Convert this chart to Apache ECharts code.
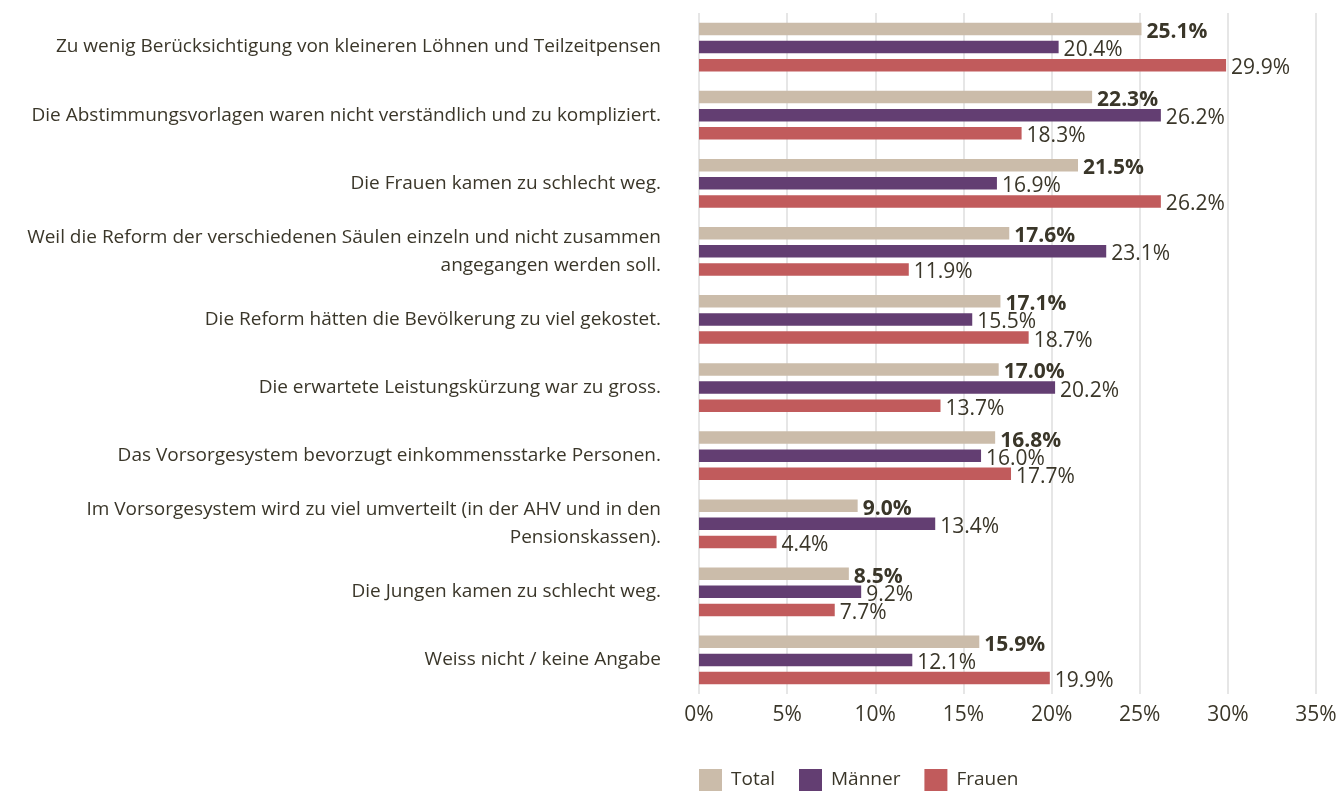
<!DOCTYPE html>
<html>
<head>
<meta charset="utf-8">
<script src="https://cdn.jsdelivr.net/npm/echarts@6/dist/echarts.min.js"></script>
<style>
  html, body { margin: 0; padding: 0; background: #fff; }
  #chart { width: 1342px; height: 791px; }
</style>
</head>
<body>
<div id="chart"></div>
<script>
// Gründe (Kategorien), von oben nach unten
var categories = [
    'Zu wenig Berücksichtigung von kleineren Löhnen und Teilzeitpensen',
    'Die Abstimmungsvorlagen waren nicht verständlich und zu kompliziert.',
    'Die Frauen kamen zu schlecht weg.',
    'Weil die Reform der verschiedenen Säulen einzeln und nicht zusammen\nangegangen werden soll.',
    'Die Reform hätten die Bevölkerung zu viel gekostet.',
    'Die erwartete Leistungskürzung war zu gross.',
    'Das Vorsorgesystem bevorzugt einkommensstarke Personen.',
    'Im Vorsorgesystem wird zu viel umverteilt (in der AHV und in den\nPensionskassen).',
    'Die Jungen kamen zu schlecht weg.',
    'Weiss nicht / keine Angabe'
];
var total  = [25.1, 22.3, 21.5, 17.6, 17.1, 17.0, 16.8, 9.0, 8.5, 15.9];
var maenner = [20.4, 26.2, 16.9, 23.1, 15.5, 20.2, 16.0, 13.4, 9.2, 12.1];
var frauen = [29.9, 18.3, 26.2, 11.9, 18.7, 13.7, 17.7, 4.4, 7.7, 19.9];
var xTicks = [0, 5, 10, 15, 20, 25, 30, 35];

var textColor = '#3a3629';
var fontFam = '"Open Sans", "Noto Sans", sans-serif';

var chart = echarts.init(document.getElementById('chart'));

// Balken-Label (Total fett)
var barLabel = function(bold){
    return {
        show: true,
        position: 'right',
        distance: 5,
        offset: [0, 3],
        color: textColor,
        fontFamily: fontFam,
        fontSize: 21,
        fontWeight: bold ? 'bold' : 'normal',
        formatter: function(p){ return p.value.toFixed(1) + '%'; }
    };
};

var option = {
    animation: false,
    textStyle: { fontFamily: fontFam, color: textColor },
    legend: {
        left: 699,
        top: 769,
        padding: 0,
        itemWidth: 23,
        itemHeight: 22,
        itemGap: 24,
        icon: 'rect',
        textStyle: { fontSize: 19, color: textColor, fontFamily: fontFam, padding: [0, 0, 0, 4] },
        data: ['Total', 'Männer', 'Frauen']
    },
    grid: {
        left: 699,
        right: 26,
        top: 13,
        height: 681,
        containLabel: false
    },
    xAxis: {
        type: 'value',
        min: xTicks[0],
        max: xTicks[xTicks.length - 1],
        interval: 5,
        axisLine: { show: false },
        axisTick: { show: false },
        splitLine: { show: true, lineStyle: { color: '#e6e6e6', width: 2 } },
        axisLabel: {
            color: textColor,
            fontSize: 21,
            fontFamily: fontFam,
            margin: 11,
            formatter: '{value}%'
        }
    },
    yAxis: {
        type: 'category',
        inverse: true,
        data: categories,
        axisLine: { show: false },
        axisTick: { show: false },
        axisLabel: {
            color: textColor,
            fontSize: 19,
            fontFamily: fontFam,
            margin: 38,
            lineHeight: 28,
            align: 'right'
        }
    },
    series: [{
        name: 'Total',
        type: 'bar',
        data: total,
        barWidth: 12.5,
        barGap: '45%',
        itemStyle: { color: '#cbbcaa' },
        label: barLabel(true)
    },{
        name: 'Männer',
        type: 'bar',
        data: maenner,
        barWidth: 12.5,
        barGap: '45%',
        itemStyle: { color: '#633e72' },
        label: barLabel(false)
    },{
        name: 'Frauen',
        type: 'bar',
        data: frauen,
        barWidth: 12.5,
        barGap: '45%',
        itemStyle: { color: '#c15b5c' },
        label: barLabel(false)
    }]
};
chart.setOption(option);
</script>
</body>
</html>
